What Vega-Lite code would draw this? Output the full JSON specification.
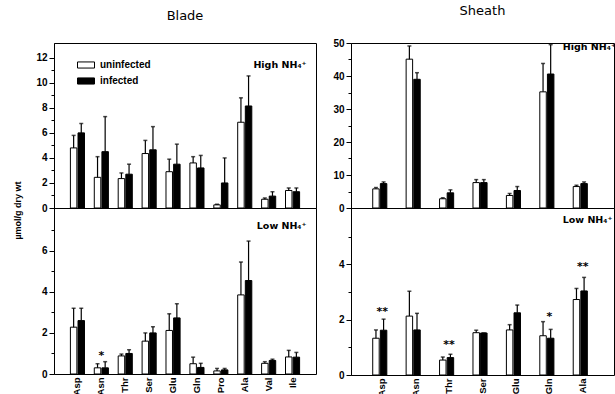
{
  "$schema": "https://vega.github.io/schema/vega-lite/v6.json",
  "autosize": {"type": "pad"},
  "padding": {"left": 12, "top": 4, "right": 0, "bottom": 0},
  "background": "white",
  "datasets": {
    "bh": [
      {"aa": "Asp", "s": "uninfected", "v": 4.8, "e": 5.8}, {"aa": "Asp", "s": "infected", "v": 6.0, "e": 6.75},
      {"aa": "Asn", "s": "uninfected", "v": 2.45, "e": 4.1}, {"aa": "Asn", "s": "infected", "v": 4.5, "e": 7.3},
      {"aa": "Thr", "s": "uninfected", "v": 2.35, "e": 2.8}, {"aa": "Thr", "s": "infected", "v": 2.7, "e": 3.5},
      {"aa": "Ser", "s": "uninfected", "v": 4.35, "e": 5.4}, {"aa": "Ser", "s": "infected", "v": 4.65, "e": 6.5},
      {"aa": "Glu", "s": "uninfected", "v": 2.9, "e": 3.9}, {"aa": "Glu", "s": "infected", "v": 3.5, "e": 5.1},
      {"aa": "Gln", "s": "uninfected", "v": 3.6, "e": 4.1}, {"aa": "Gln", "s": "infected", "v": 3.2, "e": 4.2},
      {"aa": "Pro", "s": "uninfected", "v": 0.25, "e": 0.3}, {"aa": "Pro", "s": "infected", "v": 2.0, "e": 4.0},
      {"aa": "Ala", "s": "uninfected", "v": 6.85, "e": 8.8}, {"aa": "Ala", "s": "infected", "v": 8.15, "e": 10.55},
      {"aa": "Val", "s": "uninfected", "v": 0.7, "e": 0.8}, {"aa": "Val", "s": "infected", "v": 0.95, "e": 1.3},
      {"aa": "Ile", "s": "uninfected", "v": 1.4, "e": 1.6}, {"aa": "Ile", "s": "infected", "v": 1.3, "e": 1.6}
    ],
    "bl": [
      {"aa": "Asp", "s": "uninfected", "v": 2.28, "e": 3.2}, {"aa": "Asp", "s": "infected", "v": 2.6, "e": 3.2},
      {"aa": "Asn", "s": "uninfected", "v": 0.3, "e": 0.5}, {"aa": "Asn", "s": "infected", "v": 0.3, "e": 0.6},
      {"aa": "Thr", "s": "uninfected", "v": 0.88, "e": 0.97}, {"aa": "Thr", "s": "infected", "v": 1.0, "e": 1.18},
      {"aa": "Ser", "s": "uninfected", "v": 1.6, "e": 2.0}, {"aa": "Ser", "s": "infected", "v": 2.0, "e": 2.3},
      {"aa": "Glu", "s": "uninfected", "v": 2.12, "e": 2.93}, {"aa": "Glu", "s": "infected", "v": 2.73, "e": 3.42},
      {"aa": "Gln", "s": "uninfected", "v": 0.5, "e": 0.82}, {"aa": "Gln", "s": "infected", "v": 0.32, "e": 0.52},
      {"aa": "Pro", "s": "uninfected", "v": 0.15, "e": 0.27}, {"aa": "Pro", "s": "infected", "v": 0.2, "e": 0.27},
      {"aa": "Ala", "s": "uninfected", "v": 3.85, "e": 5.45}, {"aa": "Ala", "s": "infected", "v": 4.55, "e": 6.47},
      {"aa": "Val", "s": "uninfected", "v": 0.52, "e": 0.6}, {"aa": "Val", "s": "infected", "v": 0.66, "e": 0.72},
      {"aa": "Ile", "s": "uninfected", "v": 0.83, "e": 1.15}, {"aa": "Ile", "s": "infected", "v": 0.82, "e": 1.05}
    ],
    "sh": [
      {"aa": "Asp", "s": "uninfected", "v": 5.8, "e": 6.2}, {"aa": "Asp", "s": "infected", "v": 7.4, "e": 7.9},
      {"aa": "Asn", "s": "uninfected", "v": 45.1, "e": 49.1}, {"aa": "Asn", "s": "infected", "v": 39.0, "e": 41.0},
      {"aa": "Thr", "s": "uninfected", "v": 2.8, "e": 3.1}, {"aa": "Thr", "s": "infected", "v": 4.6, "e": 5.5},
      {"aa": "Ser", "s": "uninfected", "v": 7.7, "e": 8.6}, {"aa": "Ser", "s": "infected", "v": 7.7, "e": 8.6},
      {"aa": "Glu", "s": "uninfected", "v": 3.8, "e": 4.4}, {"aa": "Glu", "s": "infected", "v": 5.3, "e": 6.5},
      {"aa": "Gln", "s": "uninfected", "v": 35.2, "e": 43.8}, {"aa": "Gln", "s": "infected", "v": 40.6, "e": 49.5},
      {"aa": "Ala", "s": "uninfected", "v": 6.5, "e": 6.9}, {"aa": "Ala", "s": "infected", "v": 7.4, "e": 7.9}
    ],
    "sl": [
      {"aa": "Asp", "s": "uninfected", "v": 1.33, "e": 1.63}, {"aa": "Asp", "s": "infected", "v": 1.62, "e": 2.02},
      {"aa": "Asn", "s": "uninfected", "v": 2.13, "e": 3.03}, {"aa": "Asn", "s": "infected", "v": 1.63, "e": 2.23},
      {"aa": "Thr", "s": "uninfected", "v": 0.54, "e": 0.65}, {"aa": "Thr", "s": "infected", "v": 0.63, "e": 0.75},
      {"aa": "Ser", "s": "uninfected", "v": 1.53, "e": 1.62}, {"aa": "Ser", "s": "infected", "v": 1.52, "e": 1.52},
      {"aa": "Glu", "s": "uninfected", "v": 1.63, "e": 1.82}, {"aa": "Glu", "s": "infected", "v": 2.25, "e": 2.53},
      {"aa": "Gln", "s": "uninfected", "v": 1.42, "e": 1.93}, {"aa": "Gln", "s": "infected", "v": 1.33, "e": 1.65},
      {"aa": "Ala", "s": "uninfected", "v": 2.73, "e": 3.13}, {"aa": "Ala", "s": "infected", "v": 3.04, "e": 3.53}
    ],
    "stars": [
      {"panel": "bl", "aa": "Asn", "y": 0.9, "t": "*"},
      {"panel": "sl", "aa": "Asp", "y": 2.27, "t": "**"},
      {"panel": "sl", "aa": "Thr", "y": 1.1, "t": "**"},
      {"panel": "sl", "aa": "Gln", "y": 2.1, "t": "*"},
      {"panel": "sl", "aa": "Ala", "y": 3.89, "t": "**"}
    ],
    "notes": [
      {"panel": "bh", "aa": "Ile", "y": 11.4, "t": "High NH₄⁺"},
      {"panel": "bl", "aa": "Ile", "y": 7.2, "t": "Low NH₄⁺"},
      {"panel": "sh", "aa": "Ala", "y": 48.8, "t": "High NH₄⁺"},
      {"panel": "sl", "aa": "Ala", "y": 5.6, "t": "Low NH₄⁺"}
    ]
  },
  "config": {
    "view": {"stroke": "black", "strokeWidth": 1},
    "axis": {
      "domainColor": "black", "tickColor": "black", "labelColor": "black",
      "labelFont": "Liberation Sans", "labelFontWeight": "bold", "labelFontSize": 10,
      "grid": false, "tickSize": 5, "labelPadding": 2, "titleColor": "black", "labelOverlap": false
    },
    "legend": {
      "orient": "none", "legendX": 23, "legendY": 13, "padding": 0,
      "labelFont": "Liberation Sans", "labelFontWeight": "bold", "labelFontSize": 10, "labelColor": "black",
      "symbolType": "M-1,-0.36H1V0.36H-1Z", "symbolSize": 289, "symbolStrokeColor": "black", "symbolStrokeWidth": 1,
      "labelOffset": 5, "rowPadding": 1
    },
    "text": {"font": "DejaVu Sans", "fontWeight": "bold", "fontSize": 9.5, "color": "black"}
  },
  "columns": 2,
  "spacing": {"row": 0, "column": 35},
  "bounds": "flush",
  "concat": [
    {
      "width": 262, "height": 165,
      "title": {"text": "Blade", "frame": "group", "anchor": "middle", "offset": 20, "fontSize": 13, "fontWeight": "normal", "font": "DejaVu Sans", "color": "black"},
      "layer": [
        {
          "data": {"name": "bh"},
          "mark": {"type": "bar", "stroke": "black", "strokeWidth": 1},
          "encoding": {
            "x": {"field": "aa", "type": "nominal", "sort": null, "scale": {"domain": ["Asp", "Asn", "Thr", "Ser", "Glu", "Gln", "Pro", "Ala", "Val", "Ile"], "paddingInner": 0.41, "paddingOuter": 0.686, "align": 0.5}, "axis": null},
            "xOffset": {"field": "s", "type": "nominal", "scale": {"domain": ["uninfected", "infected"], "paddingInner": 0.15}},
            "y": {"field": "v", "type": "quantitative", "scale": {"domain": [0, 13.18], "nice": false, "zero": true},
              "axis": {"values": [0,1,2,3,4,5,6,7,8,9,10,11,12], "tickCount": 100, "format": "d", "labelOverlap": false, "labelExpr": "datum.value % 2 == 0 ? datum.label : ''",
                "tickSize": {"condition": {"test": "datum.value % 2 != 0", "value": 3}, "value": 5},
                "title": "µmol/g dry wt", "titleX": -37, "titleY": 167, "titleAngle": -90, "titleAlign": "center", "titleBaseline": "middle",
                "titleFont": "Liberation Sans", "titleFontSize": 9, "titleFontWeight": "bold"}},
            "fill": {"field": "s", "type": "nominal", "scale": {"domain": ["uninfected", "infected"], "range": ["white", "black"]}, "legend": {"title": null}}
          }
        },
        {
          "data": {"name": "bh"},
          "mark": {"type": "rule", "color": "black", "strokeWidth": 1.2},
          "encoding": {
            "x": {"field": "aa", "type": "nominal", "sort": null},
            "xOffset": {"field": "s", "type": "nominal"},
            "y": {"field": "v", "type": "quantitative"},
            "y2": {"field": "e"}
          }
        },
        {
          "data": {"name": "bh"},
          "mark": {"type": "tick", "color": "black", "size": 4, "thickness": 1.5},
          "encoding": {
            "x": {"field": "aa", "type": "nominal", "sort": null},
            "xOffset": {"field": "s", "type": "nominal"},
            "y": {"field": "e", "type": "quantitative"}
          }
        },
        {
          "data": {"name": "notes"},
          "transform": [{"filter": "datum.panel == 'bh'"}],
          "mark": {"type": "text", "align": "right", "baseline": "middle", "dx": 14},
          "encoding": {
            "x": {"field": "aa", "type": "nominal", "sort": null},
            "y": {"field": "y", "type": "quantitative"},
            "text": {"field": "t"}
          }
        }
      ]
    },
    {
      "width": 263, "height": 165,
      "title": {"text": "Sheath", "frame": "group", "anchor": "middle", "offset": 20, "fontSize": 13, "fontWeight": "normal", "font": "DejaVu Sans", "color": "black"},
      "layer": [
        {
          "data": {"name": "sh"},
          "mark": {"type": "bar", "stroke": "black", "strokeWidth": 1},
          "encoding": {
            "x": {"field": "aa", "type": "nominal", "sort": null, "scale": {"domain": ["Asp", "Asn", "Thr", "Ser", "Glu", "Gln", "Ala"], "paddingInner": 0.43, "paddingOuter": 0.65, "align": 0.5}, "axis": null},
            "xOffset": {"field": "s", "type": "nominal", "scale": {"domain": ["uninfected", "infected"], "paddingInner": 0.25}},
            "y": {"field": "v", "type": "quantitative", "scale": {"domain": [0, 50], "nice": false},
              "axis": {"values": [0,5,10,15,20,25,30,35,40,45,50], "tickCount": 100, "format": "d", "labelOverlap": false, "labelExpr": "datum.value % 10 == 0 ? datum.label : ''",
                "tickSize": {"condition": {"test": "datum.value % 10 != 0", "value": 3}, "value": 5}, "title": null}},
            "fill": {"field": "s", "type": "nominal", "scale": {"domain": ["uninfected", "infected"], "range": ["white", "black"]}, "legend": null}
          }
        },
        {
          "data": {"name": "sh"},
          "mark": {"type": "rule", "color": "black", "strokeWidth": 1.2},
          "encoding": {
            "x": {"field": "aa", "type": "nominal", "sort": null},
            "xOffset": {"field": "s", "type": "nominal"},
            "y": {"field": "v", "type": "quantitative"},
            "y2": {"field": "e"}
          }
        },
        {
          "data": {"name": "sh"},
          "mark": {"type": "tick", "color": "black", "size": 4, "thickness": 1.5},
          "encoding": {
            "x": {"field": "aa", "type": "nominal", "sort": null},
            "xOffset": {"field": "s", "type": "nominal"},
            "y": {"field": "e", "type": "quantitative"}
          }
        },
        {
          "data": {"name": "notes"},
          "transform": [{"filter": "datum.panel == 'sh'"}],
          "mark": {"type": "text", "align": "left", "baseline": "middle", "dx": -20, "clip": true},
          "encoding": {
            "x": {"field": "aa", "type": "nominal", "sort": null},
            "y": {"field": "y", "type": "quantitative"},
            "text": {"field": "t"}
          }
        }
      ]
    },
    {
      "width": 262, "height": 166,
      "layer": [
        {
          "data": {"name": "bl"},
          "mark": {"type": "bar", "stroke": "black", "strokeWidth": 1},
          "encoding": {
            "x": {"field": "aa", "type": "nominal", "sort": null, "scale": {"domain": ["Asp", "Asn", "Thr", "Ser", "Glu", "Gln", "Pro", "Ala", "Val", "Ile"], "paddingInner": 0.41, "paddingOuter": 0.686, "align": 0.5},
              "axis": {"title": null, "labelAngle": -90, "ticks": false, "domain": false, "labelPadding": 3, "labelFontSize": 9.5}},
            "xOffset": {"field": "s", "type": "nominal", "scale": {"domain": ["uninfected", "infected"], "paddingInner": 0.15}},
            "y": {"field": "v", "type": "quantitative", "scale": {"domain": [0, 8.08], "nice": false},
              "axis": {"values": [0,1,2,3,4,5,6,7], "tickCount": 100, "format": "d", "labelOverlap": false, "labelExpr": "datum.value % 2 == 0 ? datum.label : ''",
                "tickSize": {"condition": {"test": "datum.value % 2 != 0", "value": 3}, "value": 5}, "title": null}},
            "fill": {"field": "s", "type": "nominal", "scale": {"domain": ["uninfected", "infected"], "range": ["white", "black"]}, "legend": null}
          }
        },
        {
          "data": {"name": "bl"},
          "mark": {"type": "rule", "color": "black", "strokeWidth": 1.2},
          "encoding": {
            "x": {"field": "aa", "type": "nominal", "sort": null},
            "xOffset": {"field": "s", "type": "nominal"},
            "y": {"field": "v", "type": "quantitative"},
            "y2": {"field": "e"}
          }
        },
        {
          "data": {"name": "bl"},
          "mark": {"type": "tick", "color": "black", "size": 4, "thickness": 1.5},
          "encoding": {
            "x": {"field": "aa", "type": "nominal", "sort": null},
            "xOffset": {"field": "s", "type": "nominal"},
            "y": {"field": "e", "type": "quantitative"}
          }
        },
        {
          "data": {"name": "stars"},
          "transform": [{"filter": "datum.panel == 'bl'"}],
          "mark": {"type": "text", "baseline": "middle", "align": "center", "fontSize": 11},
          "encoding": {
            "x": {"field": "aa", "type": "nominal", "sort": null},
            "y": {"field": "y", "type": "quantitative"},
            "text": {"field": "t"}
          }
        },
        {
          "data": {"name": "notes"},
          "transform": [{"filter": "datum.panel == 'bl'"}],
          "mark": {"type": "text", "align": "right", "baseline": "middle", "dx": 14},
          "encoding": {
            "x": {"field": "aa", "type": "nominal", "sort": null},
            "y": {"field": "y", "type": "quantitative"},
            "text": {"field": "t"}
          }
        }
      ]
    },
    {
      "width": 263, "height": 167,
      "layer": [
        {
          "data": {"name": "sl"},
          "mark": {"type": "bar", "stroke": "black", "strokeWidth": 1},
          "encoding": {
            "x": {"field": "aa", "type": "nominal", "sort": null, "scale": {"domain": ["Asp", "Asn", "Thr", "Ser", "Glu", "Gln", "Ala"], "paddingInner": 0.43, "paddingOuter": 0.65, "align": 0.5},
              "axis": {"title": null, "labelAngle": -90, "ticks": false, "domain": false, "labelPadding": 3, "labelFontSize": 9.5}},
            "xOffset": {"field": "s", "type": "nominal", "scale": {"domain": ["uninfected", "infected"], "paddingInner": 0.25}},
            "y": {"field": "v", "type": "quantitative", "scale": {"domain": [0, 6.04], "nice": false},
              "axis": {"values": [0,1,2,3,4,5], "tickCount": 100, "format": "d", "labelOverlap": false, "labelExpr": "datum.value % 2 == 0 ? datum.label : ''",
                "tickSize": {"condition": {"test": "datum.value % 2 != 0", "value": 3}, "value": 5}, "title": null}},
            "fill": {"field": "s", "type": "nominal", "scale": {"domain": ["uninfected", "infected"], "range": ["white", "black"]}, "legend": null}
          }
        },
        {
          "data": {"name": "sl"},
          "mark": {"type": "rule", "color": "black", "strokeWidth": 1.2},
          "encoding": {
            "x": {"field": "aa", "type": "nominal", "sort": null},
            "xOffset": {"field": "s", "type": "nominal"},
            "y": {"field": "v", "type": "quantitative"},
            "y2": {"field": "e"}
          }
        },
        {
          "data": {"name": "sl"},
          "mark": {"type": "tick", "color": "black", "size": 4, "thickness": 1.5},
          "encoding": {
            "x": {"field": "aa", "type": "nominal", "sort": null},
            "xOffset": {"field": "s", "type": "nominal"},
            "y": {"field": "e", "type": "quantitative"}
          }
        },
        {
          "data": {"name": "stars"},
          "transform": [{"filter": "datum.panel == 'sl'"}],
          "mark": {"type": "text", "baseline": "middle", "align": "center", "fontSize": 11},
          "encoding": {
            "x": {"field": "aa", "type": "nominal", "sort": null},
            "y": {"field": "y", "type": "quantitative"},
            "text": {"field": "t"}
          }
        },
        {
          "data": {"name": "notes"},
          "transform": [{"filter": "datum.panel == 'sl'"}],
          "mark": {"type": "text", "align": "left", "baseline": "middle", "dx": -20, "clip": true},
          "encoding": {
            "x": {"field": "aa", "type": "nominal", "sort": null},
            "y": {"field": "y", "type": "quantitative"},
            "text": {"field": "t"}
          }
        }
      ]
    }
  ]
}
